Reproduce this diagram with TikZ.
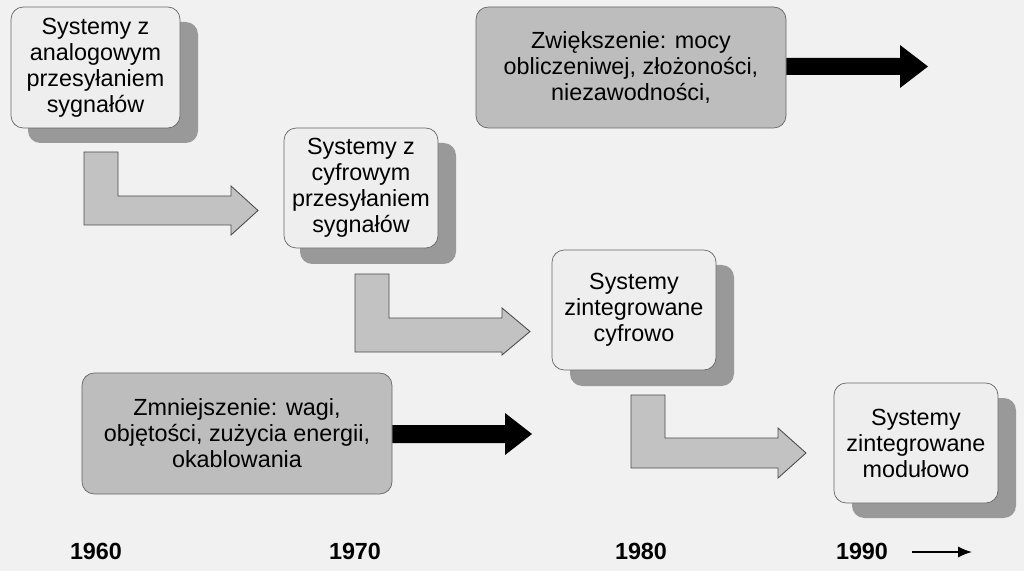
\documentclass[tikz,border=0pt]{standalone}
\usepackage{fontspec}
\setmainfont{Liberation Sans}
\usetikzlibrary{positioning,arrows.meta}
\definecolor{bg}{HTML}{F1F1F1}
\definecolor{shadowgray}{HTML}{999999}
\definecolor{lite}{HTML}{EEEEEE}
\definecolor{mid}{HTML}{BDBDBD}
\definecolor{bend}{HTML}{C2C2C2}
\tikzset{
  stage/.style={draw=gray!80!black,fill=lite,rounded corners=7pt,align=center,inner sep=0pt,font=\fontsize{13.3}{14.8}\selectfont},
  goal/.style={draw=gray!80!black,fill=mid,rounded corners=7pt,align=center,inner sep=0pt,font=\fontsize{13.3}{14.8}\selectfont},
  bendarrow/.style={draw=black!70,fill=bend,line width=0.5pt},
  year/.style={font=\bfseries\fontsize{13.3}{16}\selectfont}
}
\begin{document}
\begin{tikzpicture}[x=0.2mm,y=-0.2mm]
    \fill[bg] (0,0) rectangle (1024,571);
    \useasboundingbox (0,0) rectangle (1024,571);

    % shadows
    \fill[shadowgray,rounded corners=7pt] (28,22) rectangle (198,143);
    \fill[shadowgray,rounded corners=7pt] (300,143) rectangle (456,264);
    \fill[shadowgray,rounded corners=7pt] (570,265) rectangle (734,386);
    \fill[shadowgray,rounded corners=7pt] (852,398) rectangle (1016,518);

    \node[stage,minimum width=33.8mm,minimum height=24.2mm] (analog) at (95.5,67.5) {Systemy z\\analogowym\\przesyłaniem\\sygnałów};
    \node[stage,minimum width=30.8mm,minimum height=24mm] (cyfr) at (361,188) {Systemy z\\cyfrowym\\przesyłaniem\\sygnałów};
    \node[stage,minimum width=32.8mm,minimum height=24mm] (integ) at (634,310) {Systemy\\zintegrowane\\cyfrowo};
    \node[stage,minimum width=32.8mm,minimum height=24mm] (modul) at (916,443) {Systemy\\zintegrowane\\modułowo};

    \node[goal,minimum width=62mm,minimum height=24.2mm] (wiecej) at (631,67.5) {Zwiększenie: mocy\\obliczeniwej, złożoności,\\niezawodności,};
    \node[goal,minimum width=62mm,minimum height=24.2mm] (mniej) at (237,433.5) {Zmniejszenie: wagi,\\objętości, zużycia energii,\\okablowania};

    % black arrows
    \fill[black] (wiecej.east |- 0,58) -- (900,58) -- (900,45) -- (928,66.5) -- (900,88) -- (900,75) -- (wiecej.east |- 0,75) -- cycle;
    \fill[black] (mniej.east |- 0,425) -- (505,425) -- (505,413) -- (532,434) -- (505,455) -- (505,443) -- (mniej.east |- 0,443) -- cycle;

    % bent arrows
    \draw[bendarrow] (84,152) -- (118,152) -- (118,196) -- (231,196) -- (231,186) -- (258,210.5) -- (231,235) -- (231,225) -- (84,225) -- cycle;
    \draw[bendarrow] (355,274) -- (389,274) -- (389,318) -- (502,318) -- (502,308) -- (530,331.5) -- (502,355) -- (502,352) -- (355,352) -- cycle;
    \draw[bendarrow] (631,395) -- (665,395) -- (665,438) -- (778,438) -- (778,428) -- (806,453) -- (778,478) -- (778,468) -- (631,468) -- cycle;

    \node[year] (y60) at (96,551) {1960};
    \node[year] (y70) at (355,551) {1970};
    \node[year] (y80) at (641,551) {1980};
    \node[year] (y90) at (862,551) {1990};
    \coordinate (ystart) at (912,552);
    \coordinate (yend) at (972,552);
    \draw[-{Latex[length=2.8mm,width=2.2mm]},line width=0.8pt] (ystart) -- (yend);
\end{tikzpicture}
\end{document}
